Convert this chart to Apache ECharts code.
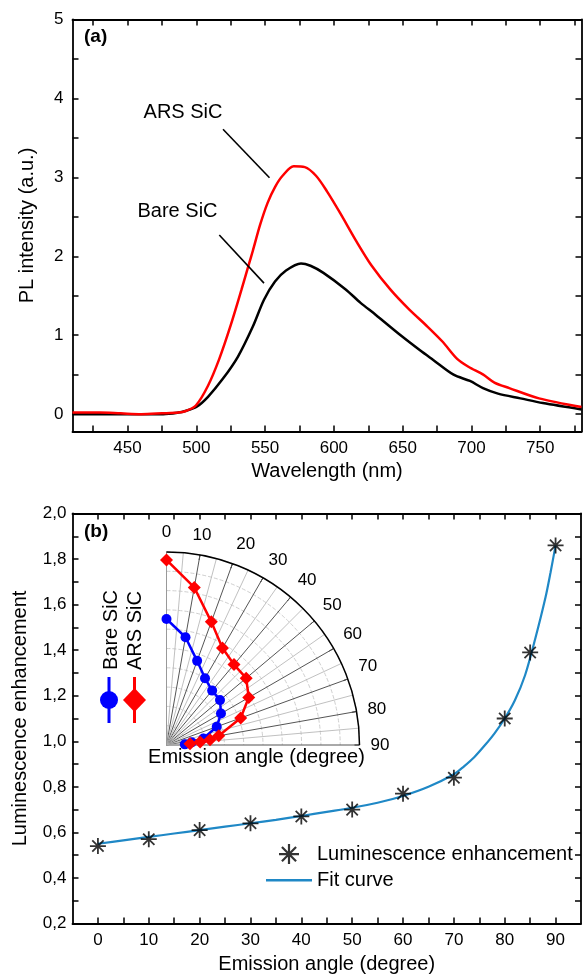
<!DOCTYPE html>
<html>
<head>
<meta charset="utf-8">
<script src="https://cdn.jsdelivr.net/npm/echarts@6/dist/echarts.min.js"></script>
<style>
html,body{margin:0;padding:0;background:#fff;}
#c{width:583px;height:976px;}
</style>
</head>
<body>
<div id="c"></div>
<script>
// ---------- Panel (a) data ----------
const bareWavelength = [410,430,450,470,476,487,492,500,508.5,519.4,530.3,541.1,549.2,557.2,565.2,576.1,583,592.4,608.6,619.4,630.3,649.2,662.6,672,687,698.9,708.4,719.3,735.6,751.9,780];
const bareIntensity  = [0.00,0.00,0.00,0.00,0.00,0.02,0.04,0.09,0.22,0.45,0.73,1.11,1.45,1.68,1.82,1.91,1.88,1.79,1.58,1.41,1.26,0.99,0.81,0.69,0.50,0.42,0.33,0.26,0.20,0.14,0.06];
const arsWavelength  = [410,430,445,460,475,487,492.4,499.7,508.5,516.7,524.9,532.9,538.4,541.1,546.4,551.9,557.3,562.7,570.8,578.9,587,595.1,604.5,616.7,627.5,641,654.5,668,678.9,689.6,697.8,708.6,716.7,727.5,749.1,780];
const arsIntensity   = [0.02,0.02,0.01,0.00,0.01,0.02,0.04,0.11,0.36,0.70,1.12,1.58,1.91,2.07,2.40,2.68,2.88,3.02,3.14,3.13,3.02,2.82,2.55,2.18,1.88,1.58,1.33,1.11,0.92,0.70,0.60,0.50,0.40,0.33,0.20,0.09];
const aXLabels = [450,500,550,600,650,700,750];
const aXTicks  = [425,450,475,500,525,550,575,600,625,650,675,700,725,750,775];
const aYLabels = [0,1,2,3,4,5];
const aYTicks  = [0,0.5,1,1.5,2,2.5,3,3.5,4,4.5,5];

// ---------- Panel (b) data ----------
const enhAngles = [0,10,20,30,40,50,60,70,80,85,90];
const enhValues = [0.54,0.57,0.61,0.64,0.67,0.70,0.77,0.84,1.10,1.39,1.86];
const fitAngles = [0,5,10,15,20,25,30,35,40,45,50,55,60,65,70,72,74,76,78,80,82,84,86,88,89,90];
const fitValues = [0.55,0.565,0.58,0.595,0.61,0.625,0.64,0.655,0.672,0.69,0.708,0.73,0.76,0.80,0.855,0.89,0.93,0.98,1.035,1.10,1.18,1.29,1.45,1.63,1.74,1.86];
const bXLabels = [0,10,20,30,40,50,60,70,80,90];
const bXTicks  = [0,5,10,15,20,25,30,35,40,45,50,55,60,65,70,75,80,85,90];
const bYLabels = [0.2,0.4,0.6,0.8,1.0,1.2,1.4,1.6,1.8,2.0];
const bYTicks  = [0.3,0.4,0.5,0.6,0.7,0.8,0.9,1.0,1.1,1.2,1.3,1.4,1.5,1.6,1.7,1.8,1.9];

// ---------- Inset polar data ----------
const arsPolarAngles  = [0,10,20,30,40,50,60,70,80,83,85,87];
const arsPolarRadius  = [9.59,8.29,6.79,5.80,5.44,5.39,4.92,4.09,2.75,2.27,1.75,1.22];
const barePolarAngles = [0,10,20,30,40,50,60,70,80,84,88];
const barePolarRadius = [6.53,5.67,4.64,3.99,3.68,3.62,3.26,2.77,1.94,1.31,0.95];

const FONT = "'Liberation Sans', Arial, sans-serif";
const FIT_COLOR = '#1f88c6';
const zip = (a, b) => a.map((v, i) => [v, b[i]]);
const star = 'path://M10 0L10 20M0 10L20 10M2.93 2.93L17.07 17.07M2.93 17.07L17.07 2.93';
const lineIcon = 'path://M0 0H46V2.4H0Z';
const comma = v => v.toFixed(1).replace('.', ',');

function frameAxis(base, extra) {
  return Object.assign({
    type: 'value',
    axisLine: {show: true, onZero: false, lineStyle: {color: '#000', width: 1.8}},
    splitLine: {show: false},
    axisTick: {show: true, inside: true, length: 6, lineStyle: {color: '#000', width: 1.5}},
    axisLabel: {show: true, color: '#000', fontSize: 17, fontFamily: FONT}
  }, base, extra || {});
}

const chart = echarts.init(document.getElementById('c'), null, {renderer: 'canvas'});
chart.setOption({
  animation: false,
  backgroundColor: '#fff',
  textStyle: {fontFamily: FONT},
  grid: [
    {left: 72.5, right: 1.5, top: 19.5, height: 412},
    {left: 72.5, right: 2, top: 513.5, height: 410}
  ],
  xAxis: [
    frameAxis({gridIndex: 0, position: 'bottom', min: 410, max: 780,
      name: 'Wavelength (nm)', nameLocation: 'middle', nameGap: 30,
      nameTextStyle: {fontSize: 20, color: '#000', fontFamily: FONT}},
      {axisTick: {show: true, inside: true, length: 6, customValues: aXTicks, lineStyle: {color: '#000', width: 1.5}},
       axisLabel: {show: true, customValues: aXLabels, margin: 8, color: '#000', fontSize: 17, fontFamily: FONT}}),
    frameAxis({gridIndex: 0, position: 'top', min: 410, max: 780},
      {axisTick: {show: true, inside: true, length: 6, customValues: aXTicks, lineStyle: {color: '#000', width: 1.5}},
       axisLabel: {show: false}}),
    frameAxis({gridIndex: 1, position: 'bottom', min: -5, max: 95,
      name: 'Emission angle (degree)', nameLocation: 'middle', nameGap: 31,
      nameTextStyle: {fontSize: 20, color: '#000', fontFamily: FONT}},
      {axisTick: {show: true, inside: true, length: 6, customValues: bXTicks, lineStyle: {color: '#000', width: 1.5}},
       axisLabel: {show: true, customValues: bXLabels, margin: 8, color: '#000', fontSize: 17, fontFamily: FONT}}),
    frameAxis({gridIndex: 1, position: 'top', min: -5, max: 95},
      {axisTick: {show: true, inside: true, length: 6, customValues: bXTicks, lineStyle: {color: '#000', width: 1.5}},
       axisLabel: {show: false}})
  ],
  yAxis: [
    frameAxis({gridIndex: 0, position: 'left', min: -0.22, max: 5,
      name: 'PL intensity (a.u.)', nameLocation: 'middle', nameGap: 35,
      nameTextStyle: {fontSize: 20, color: '#000', fontFamily: FONT}},
      {axisTick: {show: true, inside: true, length: 6, customValues: aYTicks, lineStyle: {color: '#000', width: 1.5}},
       axisLabel: {show: true, customValues: aYLabels, margin: 9, color: '#000', fontSize: 17, fontFamily: FONT}}),
    frameAxis({gridIndex: 0, position: 'right', min: -0.22, max: 5},
      {axisTick: {show: true, inside: true, length: 6, customValues: aYTicks, lineStyle: {color: '#000', width: 1.5}},
       axisLabel: {show: false}}),
    frameAxis({gridIndex: 1, position: 'left', min: 0.2, max: 2.0,
      name: 'Luminescence enhancement', nameLocation: 'middle', nameGap: 42,
      nameTextStyle: {fontSize: 20, color: '#000', fontFamily: FONT}},
      {axisTick: {show: true, inside: true, length: 6, customValues: bYTicks, lineStyle: {color: '#000', width: 1.5}},
       axisLabel: {show: true, customValues: bYLabels, formatter: comma, margin: 6, color: '#000', fontSize: 17, fontFamily: FONT}}),
    frameAxis({gridIndex: 1, position: 'right', min: 0.2, max: 2.0},
      {axisTick: {show: true, inside: true, length: 6, customValues: bYTicks, lineStyle: {color: '#000', width: 1.5}},
       axisLabel: {show: false}})
  ],
  polar: {center: [166.5, 745], radius: 193},
  angleAxis: {
    type: 'value', min: 0, max: 90, interval: 10,
    startAngle: 90, endAngle: 0, clockwise: true,
    axisLine: {show: true, lineStyle: {color: '#000', width: 1.5}},
    axisTick: {show: true, inside: true, length: 5, lineStyle: {color: '#000'}},
    axisLabel: {show: true, margin: 11, color: '#000', fontSize: 17, fontFamily: FONT},
    splitLine: {show: true, lineStyle: {color: '#555', width: 1}},
    minorTick: {show: false, splitNumber: 2},
    minorSplitLine: {show: true, lineStyle: {color: '#b0b0b0', width: 0.8}}
  },
  radiusAxis: {
    type: 'value', min: 0, max: 10, interval: 1,
    axisLine: {show: true, lineStyle: {color: '#999', width: 1}},
    axisTick: {show: false},
    axisLabel: {show: false},
    splitLine: {show: true, lineStyle: {color: '#cfcfcf', type: 'dashed', width: 1}}
  },
  legend: {
    orient: 'vertical', left: 261, top: 838, itemWidth: 46, itemHeight: 20, itemGap: 5,
    textStyle: {fontSize: 20, color: '#000', fontFamily: FONT},
    data: [
      {name: 'Luminescence enhancement', icon: star, itemStyle: {color: '#000', borderColor: '#000', borderWidth: 2.2}},
      {name: 'Fit curve', icon: lineIcon, itemStyle: {color: FIT_COLOR, borderWidth: 0}}
    ]
  },
  series: [
    {name: 'Bare SiC', type: 'line', xAxisIndex: 0, yAxisIndex: 0, data: zip(bareWavelength, bareIntensity),
     symbol: 'none', smooth: 0.3, lineStyle: {color: '#000', width: 2.5}, itemStyle: {color: '#000'},
     markLine: {silent: true, symbol: ['none', 'none'], label: {show: false},
       lineStyle: {color: '#000', width: 1.6, type: 'solid'},
       data: [
         [{coord: [519.4, 3.61]}, {coord: [553.2, 2.995]}],
         [{coord: [516.7, 2.27]}, {coord: [549.2, 1.66]}]
       ]}},
    {name: 'ARS SiC', type: 'line', xAxisIndex: 0, yAxisIndex: 0, data: zip(arsWavelength, arsIntensity),
     symbol: 'none', smooth: 0.3, lineStyle: {color: '#ff0000', width: 2.5}, itemStyle: {color: '#ff0000'}},
    {name: 'Fit curve', type: 'line', xAxisIndex: 2, yAxisIndex: 2, data: zip(fitAngles, fitValues),
     symbol: 'none', smooth: 0.3, lineStyle: {color: FIT_COLOR, width: 2.2}, itemStyle: {color: FIT_COLOR}},
    {name: 'Luminescence enhancement', type: 'scatter', xAxisIndex: 2, yAxisIndex: 2, data: zip(enhAngles, enhValues),
     symbol: star, symbolSize: 16, symbolKeepAspect: true,
     itemStyle: {color: '#000', borderColor: '#000', borderWidth: 1.8}, z: 5},
    {name: 'Bare SiC polar', type: 'line', coordinateSystem: 'polar', data: zip(barePolarRadius, barePolarAngles),
     symbol: 'circle', symbolSize: 10, lineStyle: {color: '#0000ff', width: 2.5}, itemStyle: {color: '#0000ff'}, z: 6},
    {name: 'ARS SiC polar', type: 'line', coordinateSystem: 'polar', data: zip(arsPolarRadius, arsPolarAngles),
     symbol: 'diamond', symbolSize: 13, lineStyle: {color: '#ff0000', width: 2.5}, itemStyle: {color: '#ff0000'}, z: 6}
  ],
  graphic: [
    {type: 'text', left: 84, top: 27, style: {text: '(a)', font: "bold 19px " + FONT, fill: '#000'}},
    {type: 'text', left: 84, top: 522, style: {text: '(b)', font: "bold 19px " + FONT, fill: '#000'}},
    {type: 'text', x: 183, y: 112.5, style: {text: 'ARS SiC', font: "20px " + FONT, fill: '#000', textAlign: 'center', textVerticalAlign: 'middle'}},
    {type: 'text', x: 177.5, y: 211.5, style: {text: 'Bare SiC', font: "20px " + FONT, fill: '#000', textAlign: 'center', textVerticalAlign: 'middle'}},
    {type: 'text', x: 256.5, y: 757, style: {text: 'Emission angle (degree)', font: "20px " + FONT, fill: '#000', textAlign: 'center', textVerticalAlign: 'middle'}, z: 10},
    {type: 'text', x: 111.5, y: 670, rotation: Math.PI / 2, style: {text: 'Bare SiC', font: "20px " + FONT, fill: '#000', textAlign: 'left', textVerticalAlign: 'middle'}},
    {type: 'text', x: 135.5, y: 670, rotation: Math.PI / 2, style: {text: 'ARS SiC', font: "20px " + FONT, fill: '#000', textAlign: 'left', textVerticalAlign: 'middle'}},
    {type: 'line', shape: {x1: 109, y1: 677, x2: 109, y2: 723}, style: {stroke: '#0000ff', lineWidth: 3}},
    {type: 'circle', shape: {cx: 109, cy: 700, r: 9}, style: {fill: '#0000ff'}},
    {type: 'line', shape: {x1: 134.5, y1: 677, x2: 134.5, y2: 723}, style: {stroke: '#ff0000', lineWidth: 3}},
    {type: 'polygon', shape: {points: [[134.5, 688], [146, 700], [134.5, 712], [123, 700]]}, style: {fill: '#ff0000'}}
  ]
});
</script>
</body>
</html>
